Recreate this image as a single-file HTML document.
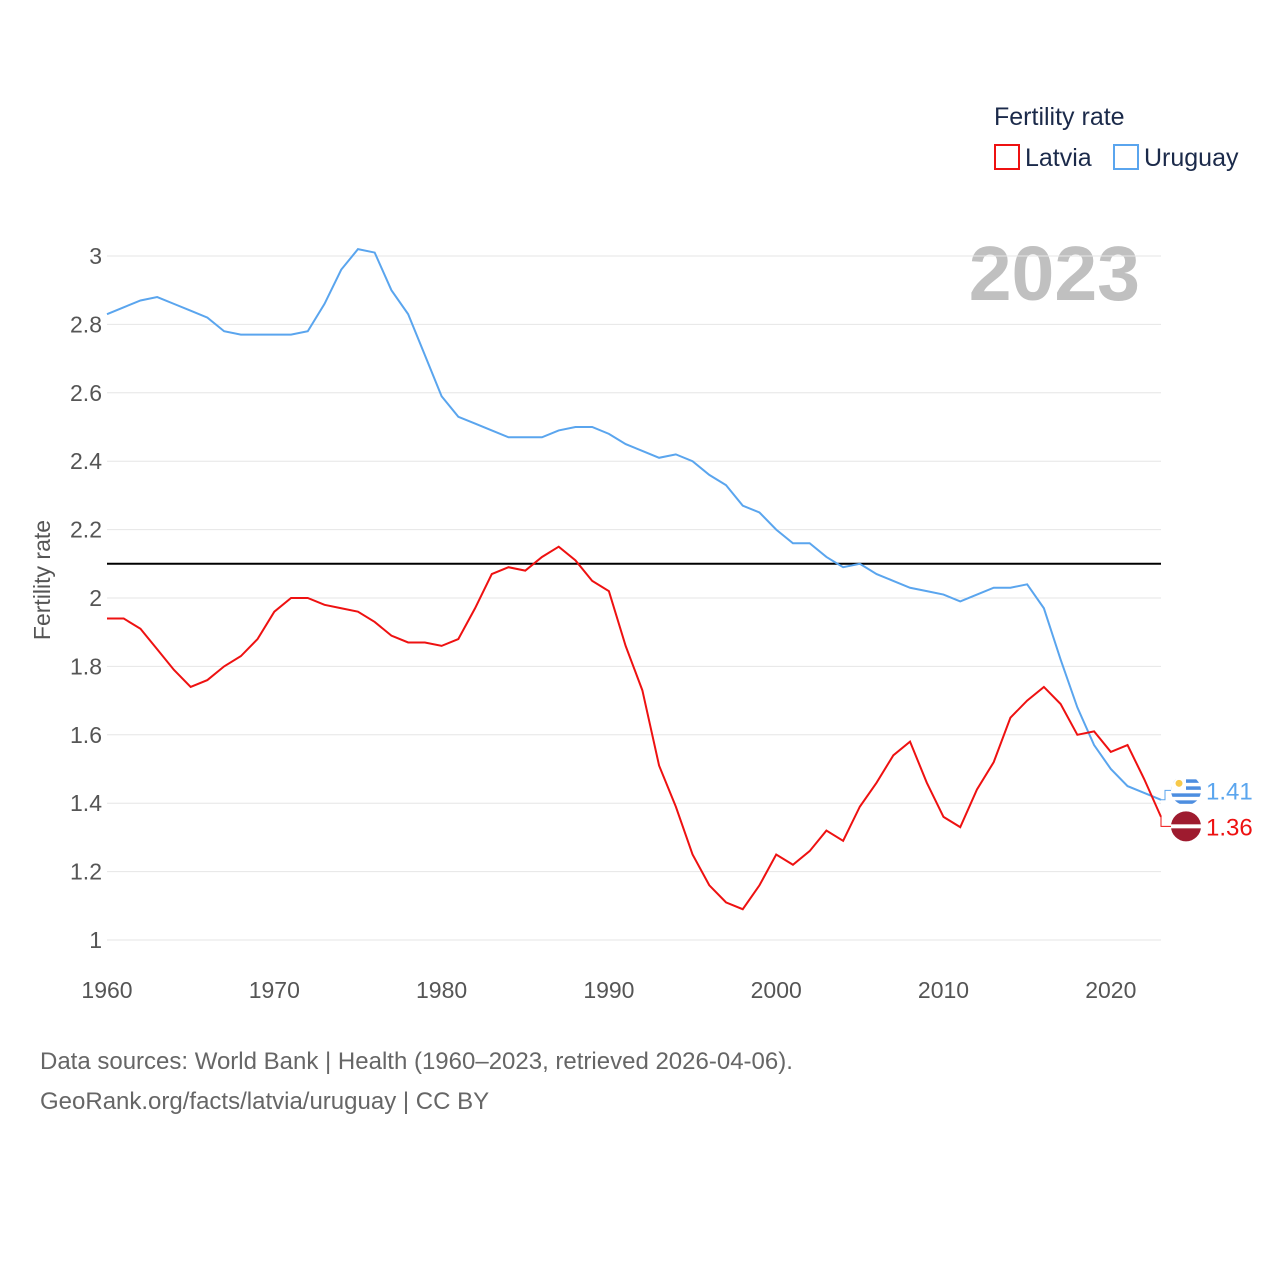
<!DOCTYPE html>
<html><head><meta charset="utf-8"><style>
body{margin:0;background:#fff;font-family:"Liberation Sans",sans-serif}
svg text{font-family:"Liberation Sans",sans-serif}
</style></head><body>
<svg id="chart" width="1280" height="1280" xmlns="http://www.w3.org/2000/svg">
<defs><clipPath id="cu"><circle id="cuc" cx="1186" cy="790" r="15"/></clipPath></defs>
<text x="994" y="125" font-size="25" fill="#1b2a4a">Fertility rate</text>
<g><rect x="995" y="145" width="24" height="24" fill="none" stroke="#ee1111" stroke-width="2"/><text x="1025" y="166" font-size="25" fill="#1b2a4a">Latvia</text></g>
<g><rect x="1114" y="145" width="24" height="24" fill="none" stroke="#5aa5ee" stroke-width="2"/><text x="1144" y="166" font-size="25" fill="#1b2a4a">Uruguay</text></g>
<text x="1140" y="300" font-size="77" font-weight="bold" fill="#c0c0c0" text-anchor="end">2023</text>
<text transform="translate(50,580) rotate(-90)" font-size="23" fill="#555" text-anchor="middle">Fertility rate</text>
<g id="grid"></g><g id="series"></g>
<text x="40" y="1069" font-size="24" fill="#666">Data sources: World Bank | Health (1960–2023, retrieved 2026-04-06).</text>
<text x="40" y="1109" font-size="24" fill="#666">GeoRank.org/facts/latvia/uruguay | CC BY</text>
</svg>
<script>
const years=[];for(let y=1960;y<=2023;y++)years.push(y);
const uruguay=[2.83,2.85,2.87,2.88,2.86,2.84,2.82,2.78,2.77,2.77,2.77,2.77,2.78,2.86,2.96,3.02,3.01,2.90,2.83,2.71,2.59,2.53,2.51,2.49,2.47,2.47,2.47,2.49,2.50,2.50,2.48,2.45,2.43,2.41,2.42,2.40,2.36,2.33,2.27,2.25,2.20,2.16,2.16,2.12,2.09,2.10,2.07,2.05,2.03,2.02,2.01,1.99,2.01,2.03,2.03,2.04,1.97,1.82,1.68,1.57,1.50,1.45,1.43,1.41];
const latvia=[1.94,1.94,1.91,1.85,1.79,1.74,1.76,1.80,1.83,1.88,1.96,2.00,2.00,1.98,1.97,1.96,1.93,1.89,1.87,1.87,1.86,1.88,1.97,2.07,2.09,2.08,2.12,2.15,2.11,2.05,2.02,1.86,1.73,1.51,1.39,1.25,1.16,1.11,1.09,1.16,1.25,1.22,1.26,1.32,1.29,1.39,1.46,1.54,1.58,1.46,1.36,1.33,1.44,1.52,1.65,1.70,1.74,1.69,1.60,1.61,1.55,1.57,1.47,1.36];
const yTicks=[1,1.2,1.4,1.6,1.8,2,2.2,2.4,2.6,2.8,3];
const xTicks=[1960,1970,1980,1990,2000,2010,2020];
const refValue=2.1;
const NS="http://www.w3.org/2000/svg";
const X=y=>107+(y-1960)*(1161-107)/63;
const Y=v=>940-(v-1)*342;
function mk(t,a,p){const e=document.createElementNS(NS,t);for(const k in a)e.setAttribute(k,a[k]);p.appendChild(e);return e;}
const g=document.getElementById('grid'),s=document.getElementById('series');
yTicks.forEach(v=>{
 const l=mk('line',{x1:107,x2:1161,y1:Y(v),y2:Y(v),stroke:'#e6e6e6'},g);
 
 
 const t=mk('text',{x:102,y:Y(v)+8,'font-size':23,fill:'#555','text-anchor':'end'},g);t.textContent=String(v);
 
 
});
xTicks.forEach(v=>{
 const t=mk('text',{x:X(v),y:998,'font-size':23,fill:'#555','text-anchor':'middle'},g);t.textContent=v;
 
 
});
const ref=mk('line',{x1:107,x2:1161,y1:Y(refValue),y2:Y(refValue),stroke:'#000','stroke-width':2},s);


function line(data,col,name){
 const p=mk('polyline',{points:data.map((v,i)=>X(years[i])+','+Y(v)).join(' '),fill:'none',stroke:col,'stroke-width':2},s);
 
 
}
line(uruguay,'#5aa5ee','uruguay-line');
line(latvia,'#ee1111','latvia-line');
const lu=uruguay[63],ll=latvia[63],xe=X(2023);
const mid=(Y(lu)+Y(ll))/2;
const cu=Math.min(Y(lu),mid-18),cl=Math.max(Y(ll),mid+18);
document.getElementById('cuc').setAttribute('cy',cu);
mk('polyline',{points:`${xe},${Y(lu)} ${xe+4},${Y(lu)} ${xe+4},${cu} ${1172},${cu}`,fill:'none',stroke:'#5aa5ee','stroke-width':1},s);
mk('polyline',{points:`${xe},${Y(ll)} ${xe},${cl} ${1172},${cl}`,fill:'none',stroke:'#ee1111','stroke-width':1},s);
const fu=mk('g',{'clip-path':'url(#cu)'},s);


mk('rect',{x:1171,y:cu-15,width:30,height:30,fill:'#fff'},fu);
for(let i=0;i<4;i++)mk('rect',{x:1171,y:cu-11+i*7,width:30,height:3.5,fill:'#4d8ee0'},fu);
mk('rect',{x:1171,y:cu-15,width:15,height:15,fill:'#fff'},fu);
mk('circle',{cx:1179,cy:cu-7,r:3.5,fill:'#f7c94a'},fu);
const fl=mk('g',{},s);


mk('circle',{cx:1186,cy:cl,r:15,fill:'#9e1b2f'},fl);
mk('rect',{x:1171,y:cl-2,width:30,height:4,fill:'#fff'},fl);
const tu=mk('text',{x:1206,y:cu+9,'font-size':24,fill:'#5aa5ee'},s);tu.textContent=lu.toFixed(2);


const tl=mk('text',{x:1206,y:cl+9,'font-size':24,fill:'#ee1111'},s);tl.textContent=ll.toFixed(2);


</script>
</body></html>
